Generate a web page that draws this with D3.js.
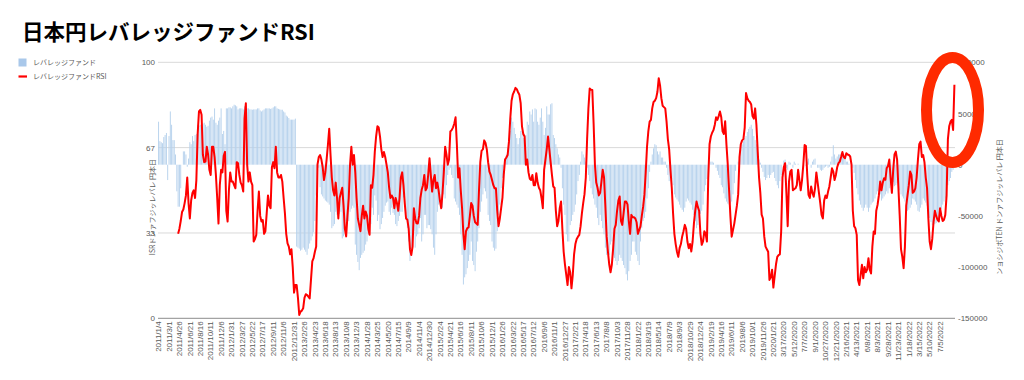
<!DOCTYPE html>
<html><head><meta charset="utf-8">
<script src="https://cdn.jsdelivr.net/npm/d3@7"></script>
<style>
html,body{margin:0;padding:0;background:#fff;}
svg{display:block;}
</style></head>
<body>
<svg id="chart" width="1024" height="380"></svg>
<script>
// ---- data (weekly, from 2011/1/4) ----
const titleText = "日本円レバレッジファンドRSI";
const seriesBarName = "レバレッジファンド";
const seriesLineName = "レバレッジファンドRSI";
const leftAxisTitle = "ISRドンァフジッレバレ 円本日";
const rightAxisTitle = "ンョシジポTEN ドンァフジッレバレ 円本日";

const xTickLabels = ["2011/1/4","2011/3/1","2011/4/26","2011/6/21","2011/8/16","2011/10/11","2011/12/6",
"2012/1/31","2012/3/27","2012/5/22","2012/7/17","2012/9/11","2012/11/6","2012/12/31",
"2013/2/26","2013/4/23","2013/6/18","2013/8/13","2013/10/8","2013/12/3",
"2014/1/28","2014/3/25","2014/5/20","2014/7/15","2014/9/9","2014/11/4","2014/12/30",
"2015/2/24","2015/4/21","2015/6/16","2015/8/11","2015/10/6","2015/12/1",
"2016/1/26","2016/3/22","2016/5/17","2016/7/12","2016/9/6","2016/11/1","2016/12/27",
"2017/2/21","2017/4/18","2017/6/13","2017/8/8","2017/10/3","2017/11/28",
"2018/1/22","2018/3/19","2018/5/14","2018/7/9","2018/9/3","2018/10/29","2018/12/24",
"2019/2/19","2019/4/16","2019/6/11","2019/8/6","2019/10/1","2019/11/26",
"2020/1/21","3/17/2020","5/12/2020","7/7/2020","9/1/2020","10/27/2020","12/21/2020",
"2/16/2021","4/13/2021","6/8/2021","8/3/2021","9/28/2021","11/23/2021",
"1/18/2022","3/15/2022","5/10/2022","7/5/2022"];
const weeksPerTick = 8;

const leftTickValues = [0, 33.33, 66.67, 100];
const leftTickLabels = ["0","33","67","100"];
const rightTickValues = [-150, -100, -50, 0, 50, 100]; // thousands
const rightTickLabels = ["-150000","-100000","-50000","0","50000","100000"];

// net position of leveraged funds, thousands of contracts
const netPositionK = [
42,23,22,21,27,29,31,-15,28,52,
39,24,24,10,-26,-41,-41,-23,0,13,
13,10,-2,6,22,20,28,23,29,30,
39,38,39,39,40,41,39,37,38,43,
46,47,44,55,41,39,43,46,55,30,
33,20,55,55,56,56,55,57,58.6,58,
57,54,55,55,55,54,57,56,55,55,
54,54,53.7,54,54,54,55,55,53,52,
53,54,55,55,55,55,54.5,55,56,57,
57,55,54.5,54,53.7,53.7,52,51,48,47,
45.6,44,44,44,44,45,-80,-81,-82,-84,
-83,-81,-83,-85,-88,-82,-77,-74,-70,-66,
-55,-30,-6.5,-3,-22,-29,-31,-33,-35,-36,
-37,-39,-46,-62,-60,-58,-46,-49,-49,-48,
-46,-72,-70,-59,-55,-52,-55,-46,-43,-40,
-42,-78,-88,-95,-103,-91,-88,-86,-84,-78,
-75,-68,-60,-58,-42,-49,-30,-35,-55,-49,
-63,-58,-52,-46,-40,-37,-36,-46,-49,-42,
-47,-49,-58,-60,-55,-50,-46,-46,-32,-29,
-48,-62,-75,-94,-84,-75,-65,-81,-70,-68,
-62,-52,-75,-68,-49,-49,-62,-59,-59,-63,
-68,-81,-88,-68,-46,-39,-36,-40,-42,-29,
-33,-20,-10,-5,-3,-10,-13,-33,-36,-39,
-42,-49,-68,-88,-117,-110,-107,-101,-94,-88,
-75,-94,-98,-104,-85,-75,-62,-46,-36,-29,
-23,-26,-33,-49,-55,-59,-75,-81,-84,-82,
-65,-49,-39,-23,-13,-3,3,10,16,26,
33,46,42,36,30,26,20,26,33,33,
26,20,29,42,39,52,49,54,42,55,
54,42,39,46,55,42,29,36,57,49,
49,59,60,29,26,20,16,10,7,-3,
-23,-39,-49,-68,-75,-75,-59,-55,-49,-46,
-39,-29,-16,-10,3,13,10,7,3,-3,
-10,-16,-23,-29,-33,-39,-42,-52,-59,-49,
-55,-62,-68,-81,-88,-81,-88,-78,-75,-88,
-91,-94,-98,-94,-88,-91,-94,-98,-101,-107,
-113,-104,-94,-88,-75,-75,-85,-88,-94,-98,
-75,-62,-55,-52,-46,-33,-23,-7,3,10,
16,20,19,13,10,13,7,7,3,3,
-3,-10,-16,-13,-14,-20,-29,-32,-34,-36,
-39,-42,-44,-46,-42,-36,-33,-35,-37,-39,
-44,-49,-55,-62,-59,-52,-48,-45,-39,-26,
-20,-14,-10,0,3,3,2,0,-3,-6,
-10,-13,-20,-22,-28,-33,-36,-38,-39,-38,
-36,-29,-18,-6,0,3,10,15,20,23,
26,28,32,35,37,39,35,28,24,20,
12,5,2,-3,-7,-12,-15,-13,-10,-13,
-10,-8,-7,-13,-16,-20,-23,-16,-10,0,
4,5,-3,-5,3,2,0,-3,3,1,
0,1,0,0,0,0,0,-1,3,6,
0,-3,3,5,6,0,-3,-3,-5,-6,
-5,-3,-2,-1,-3,-2,3,8,19,10,
6,8,10,10,11,10,8,6,3,3,
1,0,-2,-3,-8,-15,-23,-29,-35,-39,
-42,-45,-42,-39,-42,-46,-42,-39,-37,-36,
-33,-29,-26,-27,-29,-35,-33,-31,-29,-26,
-28,-23,-20,-19,-17,-21,-20,-18,-16,-25,
-29,-31,-33,-36,-42,-45,-44,-42,-39,-33,
-34,-36,-39,-45,-46,-42,-39,-33,-35,-37,
-40,-45,-52,-56,-59,-57,-58,-57,-55,-52,
-46,-43,-39,-36,-33,-26,-20,-16,-13,-7,
-5,-3];

// RSI of the net position (0-100)
const rsi = [
null,null,null,null,null,null,null,null,null,null,
null,null,null,null,null,33,35,38,41.5,42.5,
45,48,55,45,39,46,49,50,47,54,
72,80.8,81.4,79.5,64,61,61.2,67,64,58,
56,67,67,63,56,47,37,52,58,57,
63.5,65,42,37.8,50,57,53.4,53.4,52,50.8,
61,60.6,56,53,52,49.5,78,84,60,53.4,
57,53.4,52,30,31,32.6,42,49.5,40,37.8,
38.4,33,34,41,48,44,43,59,61,58.6,
67,57,55,55,56,53.4,47,41,33,29.3,
28,25,27,20,10,13,13,8,1.3,2.6,
3,3.9,8,9.4,9.1,8.5,7.8,15,22.2,23.5,
26,28,60,63,63.8,62,59,54,57,62,
67.7,74,64,55,50,48,53,47,39,47,
49,51,44,35,32,40,47,60,67,60,
63.8,57,47,39,36.5,34,40,44,39,41.7,
40,35,32.6,52,51,56,65,71,75,74.5,
71,66,63,65,63,60,57,51,47,48,
47,43,47,45,42,47,55,57,52,45,
39,38.5,35,27,24.7,28,43,39,37.1,37,
40,47,50.2,52,56,50,51,56,62.5,56,
49.5,54,56,50.8,53,50,46,43,49,57,
67,64,60,62,73,73.5,74.5,76,78.5,68,
55,58.6,50,43,33,27,34,35.2,35.5,40,
45,44,40,37.5,37,36.5,50,61,65.5,66,
69.5,68.5,66,61,57.3,56,54,52,50.8,50.8,
42,36,39,43,47,56,62,62.8,63.8,69,
78,85,87.5,88.6,90,89.5,88.3,87.3,84,75,
72,71,60,62,57,54.5,54,56,52,52,
56.7,53,51,50,47,43,58,62,66,71,
66,61,56,51.5,51,42,36,38,43,45.6,
35,26,21,17,13,20,18,11.7,17,25,
29,31,31.9,32.6,36,41,45,48.5,55,70,
82,89.8,89.3,89.2,76,60,53,51,48,49,
53.4,58,55,44,32,26,21,18,21,27.4,
35,36.5,42,46,47.6,38,36.5,41,45.6,45.6,
44.5,38,33,40.4,39.5,39.5,39,37.5,33,34.5,
36,40,43.5,48.2,57,67,73,76.8,77.5,82,
84.5,85,86,88.5,93.8,91,86,83,82.5,82,
76.8,70,66,58,51,41,33,29,26,24,
27.4,29,32,34,36.5,35,30,27.4,29,26.1,
30,37,42,45.6,43.5,42,33,28.7,30,34,
33,30,54.7,68,71,72.5,73.5,75.5,78.5,77.5,
79,80.8,78.5,73,72,77,67.7,60,50,40,
31.9,34.5,37,40.5,44,48.5,63,68,69.5,70,
74.5,88,86,85,84.5,83.5,79,78,82,75.5,
65,55,49,40.5,39,32,28,27,26,15,
16,19,12,16.5,21,24,24.7,25,34,55,
59,60.6,49,36,53.4,57.3,58,50,50.5,50.8,
52,58,54,50,54,60,67.7,67.3,56,48.2,
47,51.5,49,47.5,50.8,57,53,49,45,40.4,
39,46,48,47,49.5,51.5,55,58.6,57.3,54,
56,59,60.6,61.2,63,65,63,62.5,64.5,64,
63.8,63.2,60,42,36,35.2,32.6,15,13,17,
20.9,15.6,20,18,19,23.5,19,17.5,28,33.9,
33,42,44.3,48,53.4,50,53,54.7,54.1,58.6,
59.5,62,55,49,58,64,65.1,62,51,40,
27,24,19.6,28,44,48,52,57.3,56,49,
49.5,50.8,55,62,68,69,63,63.8,61,55,
50.8,39,30,27,31,37.8,42,40,38.5,37.8,
43,40,38,38.5,40.4,48,70,75,76.8,77.5,
73.6,91.2];

// ---- drawing ----
const svg = d3.select("#chart");
const W = 1024, H = 380;
const plot = {left: 158, right: 955, top: 62.3, bottom: 318.3};
const weeks = d3.range(Math.max(netPositionK.length, rsi.length));

const x = d3.scaleBand().domain(weeks).range([plot.left, plot.right]).paddingInner(0.3).paddingOuter(0.1);
const xc = i => x(i) + x.bandwidth() / 2;
const yL = d3.scaleLinear().domain([0, 100]).range([plot.bottom, plot.top]);
const yR = d3.scaleLinear().domain([-150, 100]).range([plot.bottom, plot.top]);

const axisColor = "#595959";
const sans = "'Liberation Sans', Arial, sans-serif";
const cjk = "'Noto Sans CJK JP', 'Noto Sans', sans-serif";

svg.append("rect").attr("width", W).attr("height", H).attr("fill", "#fff");

// title
svg.append("text").attr("x", 22).attr("y", 39.5)
  .attr("font-family", cjk).attr("font-weight", "bold").attr("font-size", 21.5)
  .attr("fill", "#000").text(titleText);

// gridlines (left axis ticks)
svg.append("g").selectAll("line").data(leftTickValues.filter(v => v > 0)).join("line")
  .attr("x1", plot.left).attr("x2", plot.right)
  .attr("y1", d => yL(d)).attr("y2", d => yL(d))
  .attr("stroke", "#d9d9d9").attr("stroke-width", 1);

// bars
svg.append("g").selectAll("rect").data(netPositionK.map((v, i) => ({i, v}))).join("rect")
  .attr("x", d => x(d.i)).attr("width", x.bandwidth())
  .attr("y", d => Math.min(yR(d.v), yR(0)))
  .attr("height", d => Math.abs(yR(d.v) - yR(0)))
  .attr("fill", "#b4d0ec");

// bottom axis line
svg.append("line").attr("x1", plot.left).attr("x2", plot.right)
  .attr("y1", plot.bottom).attr("y2", plot.bottom)
  .attr("stroke", "#8c8c8c").attr("stroke-width", 1);

// RSI line
const line = d3.line().defined(d => d.v != null).x(d => xc(d.i)).y(d => yL(d.v));
svg.append("path").datum(rsi.map((v, i) => ({i, v})))
  .attr("d", line).attr("fill", "none").attr("stroke", "#ff0000")
  .attr("stroke-width", 2).attr("stroke-linejoin", "round");

// x axis labels
const xAxis = d3.axisBottom(x)
  .tickValues(xTickLabels.map((_, k) => k * weeksPerTick))
  .tickFormat(d => xTickLabels[d / weeksPerTick])
  .tickSize(0).tickPadding(0);
const gx = svg.append("g").attr("transform", `translate(0,${plot.bottom})`).call(xAxis);
gx.select(".domain").remove();
gx.selectAll("text")
  .attr("font-family", sans).attr("font-size", 8).attr("fill", axisColor)
  .attr("text-anchor", "end").attr("transform", "translate(0,3) rotate(-90)")
  .attr("x", 0).attr("y", 0).attr("dy", "0.33em");

// left axis
const gl = svg.append("g").attr("transform", `translate(${plot.left - 3},0)`)
  .call(d3.axisLeft(yL).tickValues(leftTickValues).tickFormat((d, k) => leftTickLabels[k]).tickSize(0).tickPadding(0));
gl.select(".domain").remove();
gl.selectAll("text").attr("font-family", sans).attr("font-size", 8).attr("fill", axisColor);

// right axis
const gr = svg.append("g").attr("transform", `translate(${plot.right + 3},0)`)
  .call(d3.axisRight(yR).tickValues(rightTickValues).tickFormat((d, k) => rightTickLabels[k]).tickSize(0).tickPadding(0));
gr.select(".domain").remove();
gr.selectAll("text").attr("font-family", sans).attr("font-size", 8).attr("fill", axisColor);

// axis titles
svg.append("text").attr("transform", "translate(153,207) rotate(-90)")
  .attr("text-anchor", "middle").attr("dy", "0.35em")
  .attr("font-family", cjk).attr("font-size", 7).attr("fill", axisColor).text(leftAxisTitle);
svg.append("text").attr("transform", "translate(1000,207) rotate(-90)")
  .attr("text-anchor", "middle").attr("dy", "0.35em")
  .attr("font-family", cjk).attr("font-size", 7).attr("fill", axisColor).text(rightAxisTitle);

// legend
const lg = svg.append("g");
lg.append("rect").attr("x", 18.5).attr("y", 58.5).attr("width", 8).attr("height", 8).attr("fill", "#a9c8ea");
lg.append("text").attr("x", 33).attr("y", 62.5).attr("dy", "0.35em")
  .attr("font-family", cjk).attr("font-size", 7).attr("fill", axisColor).text(seriesBarName);
lg.append("line").attr("x1", 18.5).attr("x2", 27).attr("y1", 76.5).attr("y2", 76.5)
  .attr("stroke", "#ff0000").attr("stroke-width", 2.2);
lg.append("text").attr("x", 33).attr("y", 76.5).attr("dy", "0.35em")
  .attr("font-family", cjk).attr("font-size", 7).attr("fill", axisColor).text(seriesLineName);

// highlight ellipse annotation
svg.append("ellipse").attr("cx", 952.5).attr("cy", 110).attr("rx", 26).attr("ry", 52.5)
  .attr("fill", "none").attr("stroke", "#ff2a00").attr("stroke-width", 11);
</script>
</body></html>
